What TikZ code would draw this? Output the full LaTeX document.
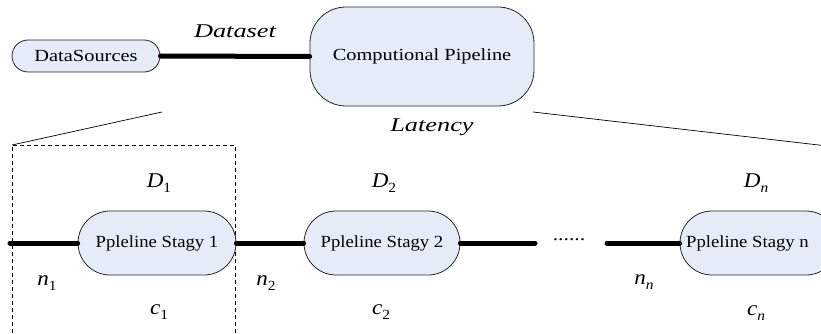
\documentclass[tikz,border=0pt]{standalone}
\usepackage{fontspec}
\setmainfont{Liberation Serif}
\usepackage{graphicx}
\usetikzlibrary{shapes.misc}
\definecolor{boxfill}{RGB}{229,236,248}
\newcommand{\hs}[1]{\scalebox{1.2}[1]{#1}}
\newcommand{\hst}[1]{\scalebox{1.1}[1]{#1}}
\newcommand{\lab}[2]{\scalebox{1.1}[1]{{\itshape #1}\raisebox{-0.45ex}{\fontsize{14}{14}\selectfont #2}}}
\begin{document}
\begin{tikzpicture}[x=1pt,y=-1pt,
  pill/.style={rounded rectangle, draw=black!85, line width=0.8pt, fill=boxfill, inner sep=0pt, font=\fontsize{17}{17}\selectfont},
  thick line/.style={line width=5pt, line cap=round},
  thin line/.style={line width=0.7pt},
  lbl/.style={font=\fontsize{21}{21}\selectfont, inner sep=0pt},
  ital/.style={font=\fontsize{19.5}{19.5}\selectfont\itshape, inner sep=0pt}]
\useasboundingbox (0,0) rectangle (821,334);
\clip (0,0) rectangle (821,334);
% top level
\node[pill, minimum width=148pt, minimum height=32pt] (ds) at (86,56) {\hs{DataSources}};
\node[draw=black!85, line width=0.8pt, fill=boxfill, rounded corners=36pt, minimum width=224pt, minimum height=99pt, inner sep=0pt, font=\fontsize{17}{17}\selectfont] (cp) at (422,56.5) {\hs{Computional Pipeline}};
\draw[thick line] (ds.east) -- (cp.west);
\node[ital] (dset) at (235,31) {\scalebox{1.35}[1]{Dataset}};
\node[ital] (lat) at (432,127) {\scalebox{1.35}[1]{Latency}};
% zoom lines
\coordinate (zl1) at (162,112);
\coordinate (zl2) at (12,145);
\coordinate (zr1) at (533,112);
\coordinate (zr2) at (823,145.5);
\draw[thin line] (zl1) -- (zl2);
\draw[thin line] (zr1) -- (zr2);
% dashed box
\draw[line width=0.7pt, dash pattern=on 4pt off 3pt] (12,340) -- (12,145) -- (235,145) -- (235,340);
% stages
\node[pill, minimum width=158pt, minimum height=64pt] (s1) at (157,243) {\hst{Ppleline Stagy 1}};
\node[pill, minimum width=156pt, minimum height=64pt] (s2) at (382,243) {\hst{Ppleline Stagy 2}};
\node[pill, minimum width=158pt, minimum height=64pt] (sn) at (759,243) {};
\node[font=\fontsize{17}{17}\selectfont, inner sep=0pt, anchor=west] (snt) at (686,243) {\hst{Ppleline Stagy n}};
\coordinate (a0) at (10,243);
\coordinate (b0) at (535,243);
\coordinate (c0) at (607,243);
\draw[thick line] (a0) -- (s1.west);
\draw[thick line] (s1.east) -- (s2.west);
\draw[thick line] (s2.east) -- (b0);
\draw[thick line] (c0) -- (sn.west);
\node[font=\fontsize{18}{18}\selectfont, inner sep=0pt] (dots) at (569,240) {\scalebox{1.2}[1]{......}};
% labels
\node[lbl] (d1) at (159,183) {\lab{D}{1}};
\node[lbl] (d2) at (384,183) {\lab{D}{2}};
\node[lbl] (dn) at (756,183) {\lab{D}{\itshape n}};
\node[lbl] (n1) at (47,283) {\lab{n}{1}};
\node[lbl] (n2) at (266,283) {\lab{n}{2}};
\node[lbl] (nn) at (644,282) {\lab{n}{\itshape n}};
\node[lbl] (c1) at (159,312) {\lab{c}{1}};
\node[lbl] (c2) at (381,312) {\lab{c}{2}};
\node[lbl] (cn) at (756,313) {\lab{c}{\itshape n}};
\end{tikzpicture}
\end{document}
